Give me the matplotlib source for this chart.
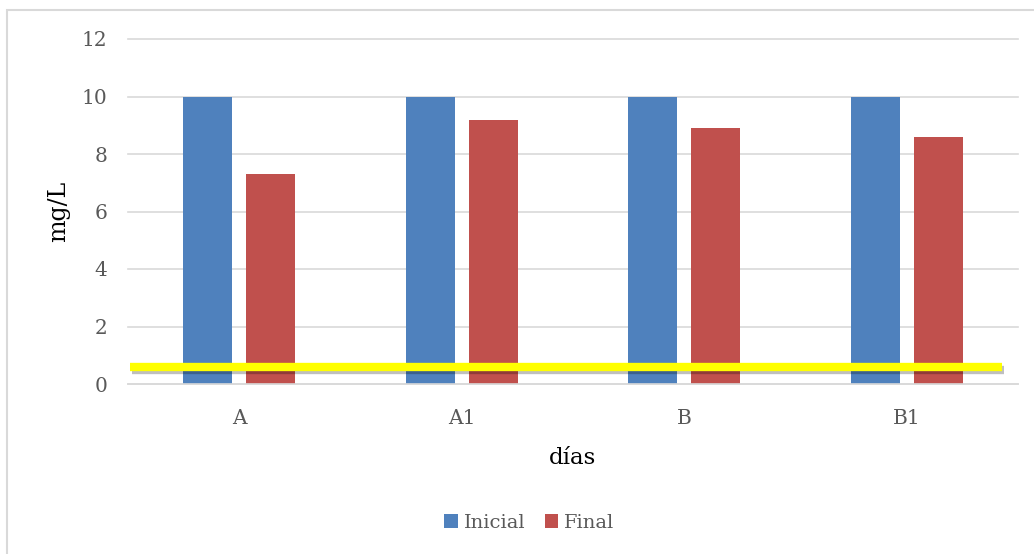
import numpy as np
import matplotlib
matplotlib.use("Agg")
import matplotlib.pyplot as plt
import matplotlib.patheffects as pe
from matplotlib.patches import Rectangle

# datos
categorias = ["A", "A1", "B", "B1"]
inicial = [10, 10, 10, 10]
final = [7.3, 9.2, 8.9, 8.6]
limite = 0.6  # linea de referencia amarilla

plt.rcParams["font.family"] = ["DejaVu Serif"]

fig = plt.figure(figsize=(10.34, 5.54), dpi=100)
ax = fig.add_axes([128 / 1034, 1 - 384 / 554, 890 / 1034, 345 / 554])

x = np.arange(len(categorias))
ancho = 0.22
sep = 0.142
ax.bar(x - sep, inicial, ancho, color="#4f81bd", label="Inicial", zorder=2)
ax.bar(x + sep, final, ancho, color="#c0504d", label="Final", zorder=2)

# linea amarilla con sombra
ax.plot([-0.49, 3.43], [limite, limite], color="#ffff00", lw=6, zorder=4,
        solid_capstyle="butt",
        path_effects=[pe.SimpleLineShadow(offset=(1, -2.5), shadow_color="#000000", alpha=0.25),
                      pe.Normal()])

ax.set_xlim(-0.5, 3.5)
ax.set_ylim(0, 12)
ax.set_yticks(range(0, 13, 2))
ax.set_xticks(x)
ax.set_xticklabels(categorias)
ax.yaxis.grid(True, color="#d9d9d9", lw=1.2, zorder=0)
for l in ax.get_ygridlines():
    l.set_clip_on(False)
ax.set_axisbelow(True)
for s in ["top", "right", "left"]:
    ax.spines[s].set_visible(False)
ax.spines["bottom"].set_color("#d9d9d9")
ax.spines["bottom"].set_linewidth(1.2)
ax.tick_params(length=0, labelsize=14.5, labelcolor="#595959")
ax.tick_params(axis="y", pad=15)
ax.tick_params(axis="x", pad=18)

ax.set_ylabel("mg/L", fontsize=17, labelpad=8)
ax.set_xlabel("días", fontsize=16.5, labelpad=14)

ax.legend(loc="upper center", bbox_to_anchor=(0.451, -0.325), ncol=2, frameon=False,
          fontsize=14, handlelength=0.7, handleheight=0.7, handletextpad=0.3,
          columnspacing=1.0, labelcolor="#595959")

# marco exterior
fig.patches.append(Rectangle((7 / 1034, -0.1), 1.2, 1 - 10 / 554 + 0.1,
                             transform=fig.transFigure, fill=False,
                             edgecolor="#d9d9d9", lw=1.5))

fig.savefig("out.png", dpi=100)
